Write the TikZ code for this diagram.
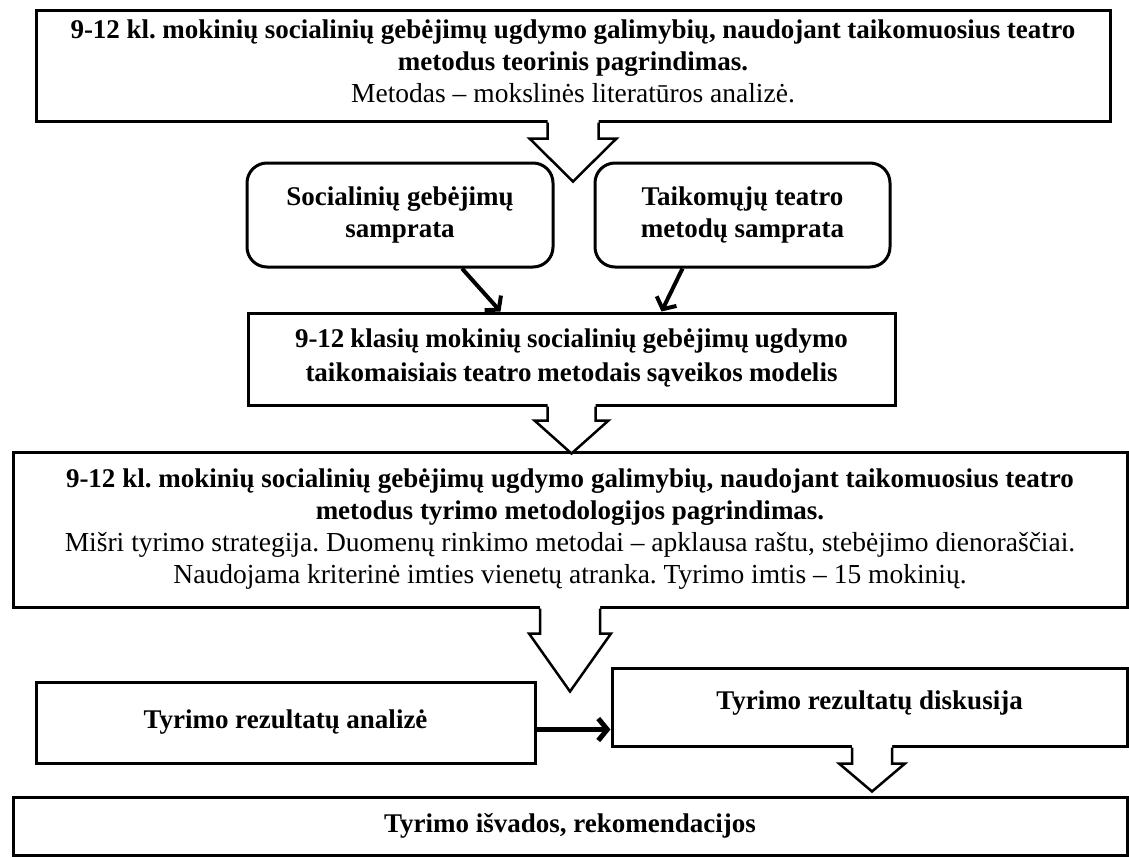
\documentclass[tikz,border=0pt]{standalone}
\usepackage{fontspec}
\setmainfont{Liberation Serif}
\usetikzlibrary{arrows.meta,calc}
\frenchspacing

\tikzset{
  frame/.style={draw, line width=3pt, fill=white, inner sep=0pt, align=center,
    font=\frenchspacing\bfseries\fontsize{27}{32}\selectfont},
  roundframe/.style={frame, rounded corners=20pt},
  flow/.style={line width=4pt, -{Straight Barb[length=9pt,width=22pt]}},
  hollow/.style={line width=2.5pt, line join=miter},
}
% regular-weight line inside a bold box
\newcommand\plain[1]{{\mdseries\fontsize{27.5}{32}\selectfont #1}}
% line stretched to a given width (justified)
\newcommand\jline[2]{\makebox[#1pt][s]{#2}}
% hollow block arrow hanging from a box edge:
% #1 start point, #2 shaft half-width, #3 shaft length, #4 head half-width, #5 head length
\newcommand\hollowarrow[5]{%
  \path[fill=white] ($#1+(-#2,-3)$) -- ++(0,#3+3) -- ++(#2-#4,0) -- ++(#4,#5)
    -- ++(#4,-#5) -- ++(#2-#4,0) -- ++(0,-#3-3) -- cycle;
  \draw[hollow] ($#1+(-#2,0)$) -- ++(0,#3) -- ++(#2-#4,0) -- ++(#4,#5)
    -- ++(#4,-#5) -- ++(#2-#4,0) -- ++(0,-#3);
}

\begin{document}
\begin{tikzpicture}[x=1pt,y=-1pt]
\useasboundingbox (0,0) rectangle (1129,857);

% theory box
\node[frame, minimum width=1074pt, minimum height=111pt] (b1) at (573,65.5)
  {\jline{1005}{9-12 kl. mokinių socialinių gebėjimų ugdymo galimybių, naudojant taikomuosius teatro}\\
   metodus teorinis pagrindimas.\\
   \plain{Metodas – mokslinės literatūros analizė.}\rule[-8pt]{0pt}{0pt}};

% two concept boxes
\node[roundframe, minimum width=306pt, minimum height=104pt] (l1) at (400,215)
  {Socialinių gebėjimų\\samprata};
\node[roundframe, minimum width=295pt, minimum height=104pt] (r1) at (742.5,215)
  {Taikomųjų teatro\\metodų samprata};

% model box
\node[frame, minimum width=647pt, minimum height=92pt] (b3) at (571.5,359)
  {\jline{553}{9-12 klasių mokinių socialinių gebėjimų ugdymo}\\[2pt]
   \jline{532}{taikomaisiais teatro metodais sąveikos modelis}\rule[-8pt]{0pt}{0pt}};

% methodology box
\node[frame, minimum width=1114pt, minimum height=155pt] (b4) at (570,529.5)
  {\jline{1008}{9-12 kl. mokinių socialinių gebėjimų ugdymo galimybių, naudojant taikomuosius teatro}\\
   metodus tyrimo metodologijos pagrindimas.\\
   \plain{Mišri tyrimo strategija. Duomenų rinkimo metodai – apklausa raštu, stebėjimo dienoraščiai.}\\
   \plain{Naudojama kriterinė imties vienetų atranka. Tyrimo imtis – 15 mokinių.}};

% results
\node[frame, minimum width=499pt, minimum height=81pt] (b5) at (285.5,722.5)
  {Tyrimo rezultatų analizė};
\node[frame, minimum width=515pt, minimum height=78pt] (b6) at (869.5,707)
  {Tyrimo rezultatų diskusija\rule[-14pt]{0pt}{0pt}};

% conclusions
\node[frame, minimum width=1114pt, minimum height=58pt] (b7) at (570,826)
  {Tyrimo išvados, rekomendacijos};

% hollow block arrows
\hollowarrow{(b1.south)}{25.5}{16}{43.5}{43}
\hollowarrow{(b3.south)}{24}{14}{37}{33}
\hollowarrow{(b4.south)}{30}{25}{41}{58}
\hollowarrow{($(b6.south)+(2.5,0)$)}{20}{16}{33}{28}

% line arrows
\draw[flow] ($(l1.south)+(62,0)$) -- ($(b3.north)+(-71,0)$);
\draw[flow] ($(r1.south)+(-60,0)$) -- ($(b3.north)+(90,0)$);
\coordinate (hstart) at ($(b5.east)+(0,7)$);
\draw[flow, line width=5pt] (hstart) -- (b6.west |- hstart);
\end{tikzpicture}
\end{document}
